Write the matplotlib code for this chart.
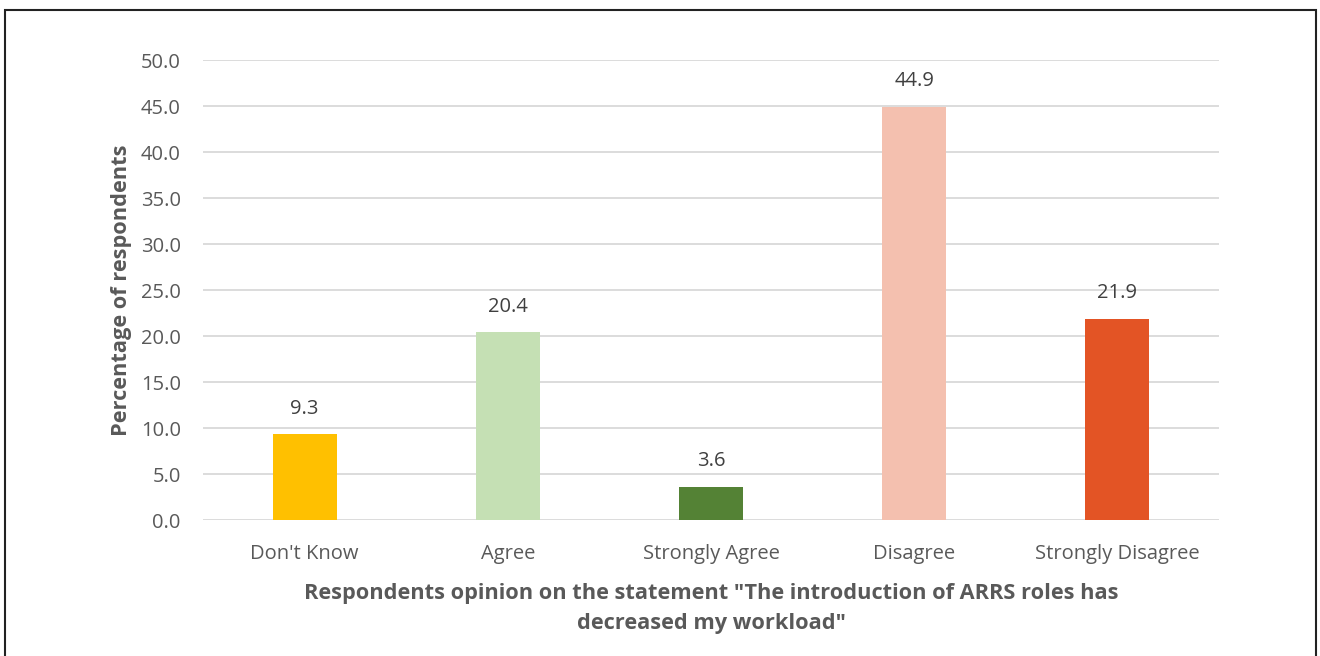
import matplotlib
matplotlib.use("Agg")
import matplotlib.pyplot as plt
from matplotlib.patches import Rectangle

# survey answers
categories = ["Don't Know", "Agree", "Strongly Agree", "Disagree", "Strongly Disagree"]
percent = [9.3, 20.4, 3.6, 44.9, 21.9]
colors = ["#FFC000", "#C5E0B4", "#548235", "#F4C0AF", "#E35425"]
y_ticks = [0, 5, 10, 15, 20, 25, 30, 35, 40, 45, 50]

plt.rcParams['font.family'] = ['Open Sans', 'DejaVu Sans']
grey = '#595959'

fig = plt.figure(figsize=(13.2, 6.56), dpi=100)
ax = fig.add_axes([0.1538, 0.2073, 0.7697, 0.7012])

x = range(len(categories))
bars = ax.bar(x, percent, width=0.315, color=colors, zorder=3)
for b, v in zip(bars, percent):
    ax.text(b.get_x() + b.get_width() / 2, v + 1.7, f"{v:.1f}",
            ha='center', va='bottom', fontsize=14.5, color='#404040')

ax.set_xlim(-0.5, len(categories) - 0.5)
ax.set_ylim(0, 50)
ax.set_yticks(y_ticks)
ax.set_yticklabels([f"{t:.1f}" for t in y_ticks])
ax.set_xticks(list(x))
ax.set_xticklabels(categories)
ax.tick_params(axis='both', length=0, labelsize=14.5, colors=grey)
ax.tick_params(axis='x', pad=17)
ax.tick_params(axis='y', pad=16)

ax.yaxis.grid(True, color='#D9D9D9', linewidth=1.3, zorder=0)
for s in ax.spines.values():
    s.set_visible(False)

ax.set_ylabel('Percentage of respondents', fontsize=15.7, fontweight='bold',
              color=grey, labelpad=6)
ax.set_xlabel('Respondents opinion on the statement "The introduction of ARRS roles has\n'
              'decreased my workload"', fontsize=15.7, fontweight='bold',
              color=grey, labelpad=14, linespacing=1.55)

# outer frame (open at the bottom)
fig.patches.append(Rectangle((5 / 1320, -0.05), 1311 / 1320, 1.05 - 10 / 656,
                             transform=fig.transFigure, fill=False,
                             edgecolor='#222222', linewidth=1.5))

fig.savefig("out.png", dpi=100)
